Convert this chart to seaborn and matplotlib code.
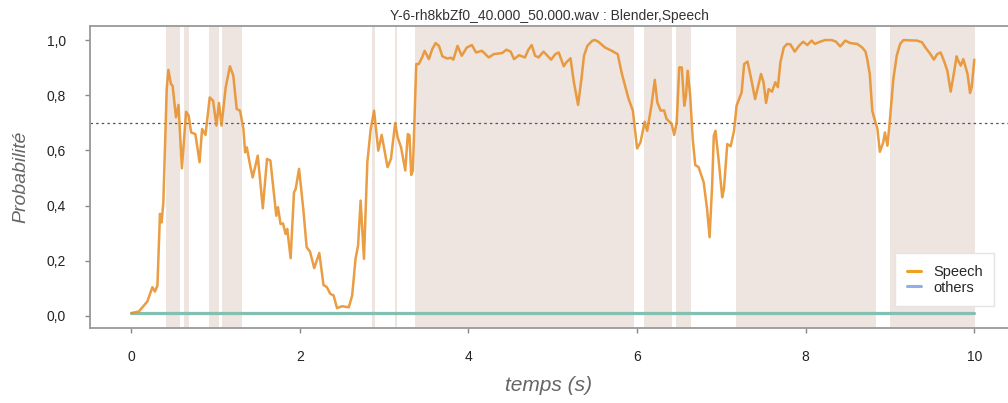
import matplotlib
matplotlib.use("Agg")
import matplotlib.pyplot as plt
from matplotlib.lines import Line2D
from matplotlib.ticker import FuncFormatter
import pandas as pd
import seaborn as sns

# speech probability
speech_t = [0.00, 0.09, 0.19, 0.25, 0.28, 0.31, 0.34, 0.36, 0.38, 0.42, 0.44, 0.47, 0.49, 0.53,
            0.56, 0.60, 0.65, 0.68, 0.71, 0.76, 0.81, 0.84, 0.88, 0.93, 0.97, 1.01, 1.04, 1.07,
            1.12, 1.17, 1.21, 1.25, 1.29, 1.33, 1.35, 1.37, 1.41, 1.44, 1.50, 1.56, 1.61, 1.65,
            1.72, 1.74, 1.77, 1.80, 1.83, 1.85, 1.89, 1.93, 1.95, 1.99, 2.04, 2.08, 2.12, 2.17,
            2.23, 2.28, 2.32, 2.36, 2.40, 2.44, 2.50, 2.58, 2.62, 2.66, 2.69, 2.72, 2.76, 2.80,
            2.84, 2.88, 2.93, 2.97, 3.04, 3.08, 3.13, 3.16, 3.20, 3.25, 3.28, 3.30, 3.32, 3.34,
            3.38, 3.41, 3.45, 3.48, 3.53, 3.57, 3.61, 3.65, 3.69, 3.75, 3.79, 3.82, 3.87, 3.92,
            3.98, 4.04, 4.09, 4.16, 4.24, 4.30, 4.40, 4.45, 4.50, 4.54, 4.60, 4.67, 4.71, 4.75,
            4.79, 4.83, 4.89, 4.98, 5.03, 5.07, 5.13, 5.16, 5.21, 5.25, 5.30, 5.34, 5.37, 5.41,
            5.47, 5.50, 5.54, 5.62, 5.70, 5.77, 5.82, 5.90, 5.95, 6.00, 6.04, 6.09, 6.12, 6.17,
            6.21, 6.24, 6.28, 6.32, 6.35, 6.41, 6.44, 6.47, 6.50, 6.53, 6.56, 6.58, 6.60, 6.63,
            6.66, 6.69, 6.73, 6.79, 6.83, 6.86, 6.89, 6.91, 6.93, 6.97, 7.01, 7.03, 7.07, 7.11,
            7.15, 7.18, 7.24, 7.27, 7.31, 7.35, 7.40, 7.47, 7.50, 7.53, 7.56, 7.60, 7.64, 7.67,
            7.70, 7.74, 7.78, 7.82, 7.87, 7.92, 7.97, 8.02, 8.07, 8.11, 8.17, 8.23, 8.31, 8.36,
            8.41, 8.47, 8.53, 8.61, 8.67, 8.71, 8.73, 8.76, 8.79, 8.81, 8.85, 8.88, 8.92, 8.94,
            8.97, 9.00, 9.04, 9.08, 9.12, 9.16, 9.32, 9.38, 9.42, 9.48, 9.52, 9.56, 9.60, 9.64,
            9.68, 9.72, 9.76, 9.79, 9.81, 9.84, 9.87, 9.92, 9.95, 9.97, 10.00]
speech_p = [0.010, 0.016, 0.052, 0.104, 0.088, 0.110, 0.370, 0.339, 0.412, 0.822, 0.892, 0.841, 0.834, 0.720,
            0.765, 0.535, 0.740, 0.726, 0.665, 0.659, 0.557, 0.678, 0.656, 0.792, 0.780, 0.690, 0.772, 0.690,
            0.829, 0.905, 0.871, 0.750, 0.744, 0.678, 0.593, 0.611, 0.545, 0.502, 0.581, 0.390, 0.569, 0.563,
            0.363, 0.394, 0.333, 0.335, 0.297, 0.315, 0.209, 0.448, 0.460, 0.533, 0.388, 0.249, 0.233, 0.173,
            0.228, 0.112, 0.104, 0.080, 0.074, 0.028, 0.035, 0.031, 0.074, 0.207, 0.255, 0.418, 0.207, 0.557,
            0.678, 0.744, 0.599, 0.656, 0.539, 0.569, 0.699, 0.647, 0.611, 0.527, 0.659, 0.655, 0.511, 0.527,
            0.913, 0.913, 0.937, 0.961, 0.931, 0.967, 0.989, 0.979, 0.941, 0.933, 0.936, 0.929, 0.979, 0.943,
            0.973, 0.982, 0.955, 0.961, 0.937, 0.949, 0.953, 0.965, 0.958, 0.931, 0.945, 0.937, 0.965, 0.982,
            0.943, 0.937, 0.958, 0.929, 0.949, 0.955, 0.905, 0.919, 0.934, 0.847, 0.765, 0.859, 0.943, 0.979,
            0.998, 1.000, 0.994, 0.973, 0.961, 0.949, 0.877, 0.786, 0.744, 0.607, 0.629, 0.704, 0.671, 0.762,
            0.856, 0.774, 0.744, 0.745, 0.714, 0.696, 0.656, 0.702, 0.901, 0.901, 0.762, 0.798, 0.889, 0.798,
            0.641, 0.547, 0.539, 0.484, 0.388, 0.285, 0.472, 0.653, 0.671, 0.557, 0.430, 0.460, 0.623, 0.615,
            0.671, 0.762, 0.810, 0.913, 0.922, 0.865, 0.786, 0.877, 0.847, 0.772, 0.822, 0.813, 0.847, 0.829,
            0.919, 0.973, 0.986, 0.984, 0.958, 0.979, 0.994, 0.982, 0.998, 0.986, 0.994, 1.000, 1.000, 0.994,
            0.977, 0.998, 0.989, 0.986, 0.973, 0.958, 0.931, 0.877, 0.744, 0.720, 0.680, 0.595, 0.629, 0.665,
            0.617, 0.714, 0.859, 0.943, 0.986, 1.000, 0.998, 0.992, 0.973, 0.949, 0.929, 0.949, 0.955, 0.925,
            0.889, 0.813, 0.883, 0.941, 0.925, 0.907, 0.931, 0.877, 0.808, 0.830, 0.929]

# "others" probability stays flat near zero
others_t = [0.0, 10.0]
others_p = [0.01, 0.01]

# annotated segments (shaded bands)
band_start = [0.41, 0.625, 0.925, 1.08, 2.855, 3.13, 3.37, 6.085, 6.465, 7.173, 9.004]
band_end = [0.581, 0.684, 1.044, 1.313, 2.894, 3.15, 5.965, 6.42, 6.643, 8.836, 10.01]

threshold = 0.7
x_ticks = [0, 2, 4, 6, 8, 10]
y_ticks = [0.0, 0.2, 0.4, 0.6, 0.8, 1.0]

speech_df = pd.DataFrame({"t": speech_t, "p": speech_p})
others_df = pd.DataFrame({"t": others_t, "p": others_p})

sns.set_theme(style="white")
plt.rcParams["font.family"] = ["Liberation Sans", "DejaVu Sans"]

fig = plt.figure(figsize=(10.08, 4.03), dpi=100)
ax = fig.add_axes([90 / 1008, 75 / 403, 918 / 1008, 302 / 403])

for s, e in zip(band_start, band_end):
    ax.axvspan(s, e, color="#eee4e0", lw=0, zorder=0)

ax.axhline(threshold, color="#555555", lw=0.9, ls=(0, (2, 2.5)), zorder=1)

sns.lineplot(data=others_df, x="t", y="p", ax=ax, color="#84c0b2", lw=2.3, zorder=2)
sns.lineplot(data=speech_df, x="t", y="p", ax=ax, color="#e8922e", lw=1.8, alpha=0.9, zorder=3)

ax.set_xlim(-0.49, 10.4)
ax.set_ylim(-0.044, 1.051)
ax.set_xticks(x_ticks)
ax.set_yticks(y_ticks)
ax.yaxis.set_major_formatter(FuncFormatter(lambda v, _: f"{v:.1f}".replace(".", ",")))
ax.tick_params(axis="both", which="major", direction="out", length=3.5, width=1,
               color="#888888", labelsize=10, labelcolor="#222222", left=True, bottom=True)
ax.tick_params(axis="y", pad=14)
ax.tick_params(axis="x", pad=12)

for side in ["top", "bottom", "left"]:
    ax.spines[side].set_color("#999999")
    ax.spines[side].set_linewidth(1.3)
ax.spines["right"].set_visible(False)

ax.set_title("Y-6-rh8kbZf0_40.000_50.000.wav : Blender,Speech", fontsize=10, color="#333333", pad=4)
ax.set_xlabel("temps (s)", fontsize=15, style="italic", color="#666666", labelpad=9)
ax.set_ylabel("Probabilité", fontsize=14, style="italic", color="#666666", labelpad=12)

handles = [Line2D([0], [0], color="#f0a020", lw=2.2),
           Line2D([0], [0], color="#8fb0e0", lw=2.2)]
leg = ax.legend(handles, ["Speech", "others"], loc="lower right", bbox_to_anchor=(0.985, 0.072),
                fontsize=10.5, handlelength=1.0, handletextpad=0.8, borderpad=0.8,
                borderaxespad=0, labelspacing=0.1, fancybox=False, framealpha=1,
                edgecolor="#e4e4e4")
leg.get_frame().set_linewidth(1)
leg._legend_box.align = "left"
for txt in leg.get_texts():
    txt.set_ha("left")

fig.savefig("out.png", dpi=100)
